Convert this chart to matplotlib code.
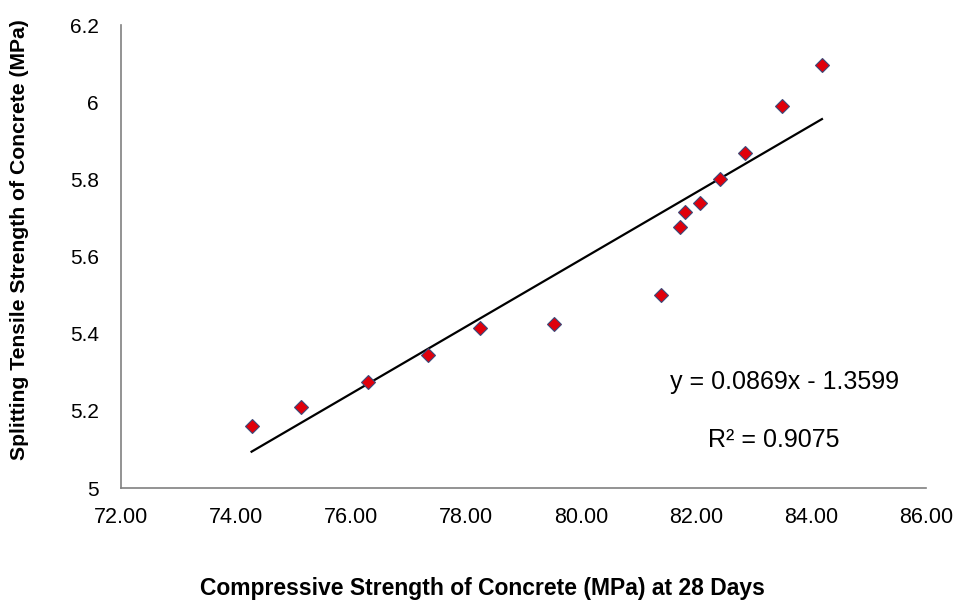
import numpy as np
import matplotlib.pyplot as plt

# compressive strength (MPa) at 28 days vs splitting tensile strength (MPa)
compressive = [74.27, 75.13, 76.29, 77.33, 78.25, 79.53, 81.39,
               81.72, 81.81, 82.07, 82.42, 82.85, 83.49, 84.19]
tensile = [5.16, 5.21, 5.275, 5.345, 5.415, 5.425, 5.50,
           5.677, 5.715, 5.739, 5.80, 5.868, 5.99, 6.096]

slope = 0.0869
intercept = -1.3599
r2 = 0.9075

x_ticks = [72, 74, 76, 78, 80, 82, 84, 86]
y_ticks = [5, 5.2, 5.4, 5.6, 5.8, 6, 6.2]
y_tick_labels = ["5", "5.2", "5.4", "5.6", "5.8", "6", "6.2"]

plt.rcParams['font.family'] = ['Liberation Sans', 'DejaVu Sans']

fig = plt.figure(figsize=(9.63, 6.03), dpi=100)
ax = fig.add_axes([0.1257, 0.1907, 0.8359, 0.7678])

# trendline from the reported equation
xs = np.array([min(compressive), max(compressive)])
ax.plot(xs, slope * xs + intercept, color='black', lw=1.6, zorder=2)

ax.plot(compressive, tensile, linestyle='none', marker='D', ms=7.5,
        markerfacecolor='#e0000b', markeredgecolor='#3a4a7a',
        markeredgewidth=0.8, zorder=3)

ax.set_xlim(72, 86)
ax.set_ylim(5, 6.2)
ax.set_xticks(x_ticks)
ax.set_xticklabels([f"{v:.2f}" for v in x_ticks], fontsize=15.5)
ax.set_yticks(y_ticks)
ax.set_yticklabels(y_tick_labels, fontsize=15)
ax.tick_params(axis='both', length=0)
ax.tick_params(axis='x', pad=14)
ax.tick_params(axis='y', pad=16)

for s in ['top', 'right']:
    ax.spines[s].set_visible(False)
for s in ['left', 'bottom']:
    ax.spines[s].set_color('#808080')
    ax.spines[s].set_linewidth(1.2)

fig.text(482 / 963, 1 - 588 / 603,
         "Compressive Strength of Concrete (MPa) at 28 Days",
         fontsize=16.5, fontweight='bold', ha='center', va='center')
fig.text(20 / 963, 1 - 240 / 603,
         "Splitting Tensile Strength of Concrete (MPa)",
         fontsize=15.2, fontweight='bold', ha='center', va='center',
         rotation=90)

ax.text(83.53, 5.275, f"y = {slope}x - {abs(intercept)}", fontsize=18,
        ha='center', va='center')
ax.text(83.35, 5.124, f"R² = {r2}", fontsize=18, ha='center', va='center')

fig.savefig("out.png", dpi=100)
